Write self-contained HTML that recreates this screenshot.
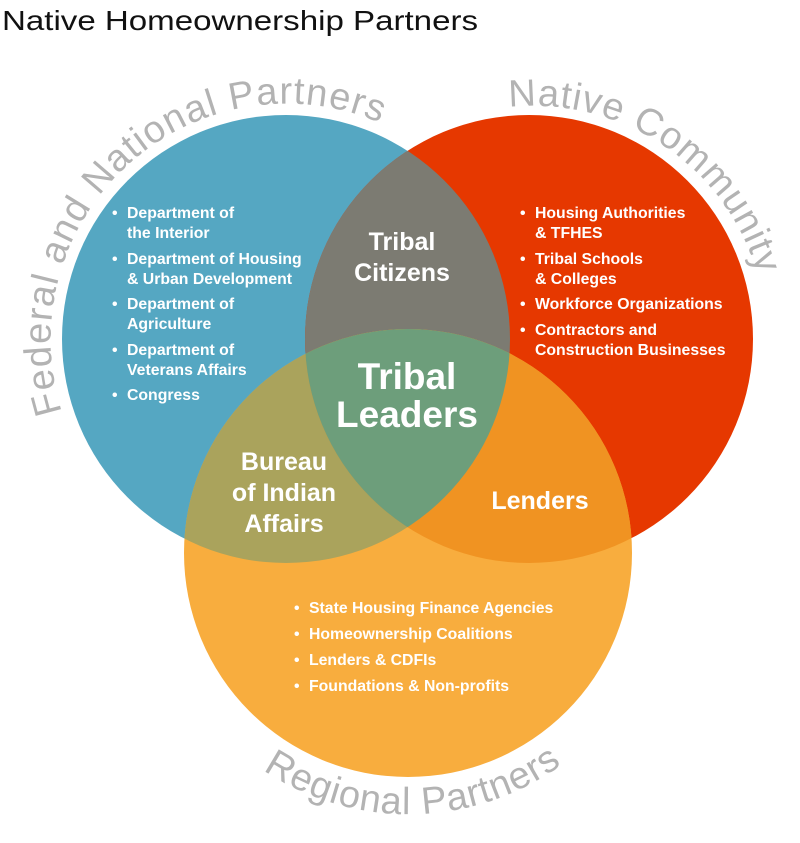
<!DOCTYPE html>
<html><head><meta charset="utf-8"><style>
html,body{margin:0;padding:0;background:#fff;}
svg{display:block;}
text{font-family:"Liberation Sans",sans-serif;}
.w{fill:#fff;font-weight:bold;font-size:15.8px;}
.big{fill:#fff;font-weight:bold;text-anchor:middle;}
.arc{fill:#b3b3b3;font-size:38px;}
</style></head><body>
<svg width="800" height="843" viewBox="0 0 800 843" xmlns="http://www.w3.org/2000/svg">
<defs>
<clipPath id="cb"><circle cx="286" cy="339" r="224"/></clipPath>
<clipPath id="cr"><circle cx="529" cy="339" r="224"/></clipPath>
<clipPath id="co"><circle cx="408" cy="553" r="224"/></clipPath>
<path id="pf" d="M 62 412 A 236 236 0 0 1 397 131"/>
<path id="pn" d="M 509 107 A 234 234 0 0 1 762 292"/>
<path id="pr" d="M 263 770 A 262 262 0 0 0 560 766"/>
</defs>
<text x="2" y="30" font-size="28" fill="#111" textLength="476" lengthAdjust="spacingAndGlyphs">Native Homeownership Partners</text>

<circle cx="286" cy="339" r="224" fill="#55a7c2"/>
<circle cx="529" cy="339" r="224" fill="#e63800"/>
<circle cx="408" cy="553" r="224" fill="#f8ad3e"/>
<g clip-path="url(#cb)"><circle cx="529" cy="339" r="224" fill="#7c7b72"/></g>
<g clip-path="url(#cb)"><circle cx="408" cy="553" r="224" fill="#aaa35c"/></g>
<g clip-path="url(#cr)"><circle cx="408" cy="553" r="224" fill="#f09322"/></g>
<g clip-path="url(#cb)"><g clip-path="url(#cr)"><circle cx="408" cy="553" r="224" fill="#6d9e7b"/></g></g>

<text class="arc"><textPath href="#pf" textLength="540" lengthAdjust="spacing">Federal and National Partners</textPath></text>
<text class="arc"><textPath href="#pn" textLength="325" lengthAdjust="spacing">Native Community</textPath></text>
<text class="arc"><textPath href="#pr" textLength="318" lengthAdjust="spacing">Regional Partners</textPath></text>

<g class="w">
<text x="112" y="218">•</text><text x="127" y="218">Department of</text>
<text x="127" y="238">the Interior</text>
<text x="112" y="264">•</text><text x="127" y="264">Department of Housing</text>
<text x="127" y="284">&amp; Urban Development</text>
<text x="112" y="309">•</text><text x="127" y="309">Department of</text>
<text x="127" y="329">Agriculture</text>
<text x="112" y="355">•</text><text x="127" y="355">Department of</text>
<text x="127" y="375">Veterans Affairs</text>
<text x="112" y="400">•</text><text x="127" y="400">Congress</text>

<text x="520" y="218">•</text><text x="535" y="218">Housing Authorities</text>
<text x="535" y="238">&amp; TFHES</text>
<text x="520" y="264">•</text><text x="535" y="264">Tribal Schools</text>
<text x="535" y="284">&amp; Colleges</text>
<text x="520" y="309">•</text><text x="535" y="309">Workforce Organizations</text>
<text x="520" y="335">•</text><text x="535" y="335">Contractors and</text>
<text x="535" y="355">Construction Businesses</text>

<text x="294" y="613">•</text><text x="309" y="613">State Housing Finance Agencies</text>
<text x="294" y="639">•</text><text x="309" y="639">Homeownership Coalitions</text>
<text x="294" y="665">•</text><text x="309" y="665">Lenders &amp; CDFIs</text>
<text x="294" y="691">•</text><text x="309" y="691">Foundations &amp; Non-profits</text>
</g>

<g class="big" font-size="25">
<text x="402" y="250">Tribal</text>
<text x="402" y="281">Citizens</text>
<text x="284" y="470">Bureau</text>
<text x="284" y="501">of Indian</text>
<text x="284" y="532">Affairs</text>
<text x="540" y="509">Lenders</text>
</g>
<g class="big" font-size="37">
<text x="407" y="389">Tribal</text>
<text x="407" y="427">Leaders</text>
</g>
</svg>
</body></html>
